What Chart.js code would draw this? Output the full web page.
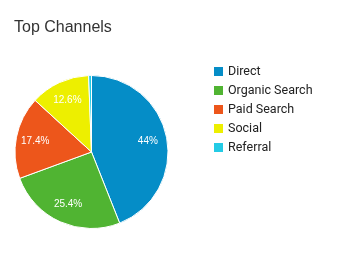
<!DOCTYPE html>
<html>
<head>
<meta charset="utf-8">
<script src="https://cdn.jsdelivr.net/npm/chart.js@4/dist/chart.umd.min.js"></script>
<style>
    html, body { margin: 0; padding: 0; background: #fff; }
    #wrap { position: relative; width: 348px; height: 268px; }
    #title {
        position: absolute; left: 14px; top: 18px;
        font: 16px "Liberation Sans", Arial, sans-serif; color: #333;
    }
</style>
</head>
<body>
<div id="wrap">
    <div id="title">Top Channels</div>
    <canvas id="pieChart" width="348" height="268"></canvas>
</div>
<script>
const channels = ["Direct", "Organic Search", "Paid Search", "Social", "Referral"];
const shares = [44, 25.4, 17.4, 12.6, 0.6];
const shareLabels = ["44%", "25.4%", "17.4%", "12.6%", ""];
const colors = ["#058dc7", "#50b432", "#ed561b", "#edef00", "#24cbe5"];

// slice labels + legend on the right
const extras = {
    id: "extras",
    afterDraw(chart) {
        const ctx = chart.ctx;
        const meta = chart.getDatasetMeta(0);
        ctx.save();
        ctx.fillStyle = "#fff";
        ctx.font = "10px 'Liberation Sans', Arial, sans-serif";
        ctx.textAlign = "center";
        ctx.textBaseline = "middle";
        meta.data.forEach((arc, i) => {
            if (!shareLabels[i]) return;
            const p = arc.getProps(["x", "y", "startAngle", "endAngle", "outerRadius"], true);
            const mid = (p.startAngle + p.endAngle) / 2;
            const r = p.outerRadius * 0.75;
            ctx.fillText(shareLabels[i], p.x + Math.cos(mid) * r, p.y + Math.sin(mid) * r);
        });

        ctx.font = "12.5px Roboto, sans-serif";
        ctx.textAlign = "left";
        channels.forEach((name, i) => {
            const y = 67 + i * 19;
            ctx.fillStyle = colors[i];
            ctx.fillRect(214, y, 9, 9);
            ctx.fillStyle = "#222";
            ctx.fillText(name, 228, y + 5);
        });
        ctx.restore();
    }
};

new Chart(document.getElementById("pieChart"), {
    type: "pie",
    data: {
        labels: channels,
        datasets: [{
            data: shares,
            backgroundColor: colors,
            borderColor: "#fff",
            borderWidth: 1
        }]
    },
    options: {
        responsive: false,
        animation: false,
        layout: {
            padding: { left: 14, top: 75, right: 179, bottom: 39 }
        },
        plugins: {
            legend: { display: false },
            tooltip: { enabled: false }
        }
    },
    plugins: [extras]
});
</script>
</body>
</html>
